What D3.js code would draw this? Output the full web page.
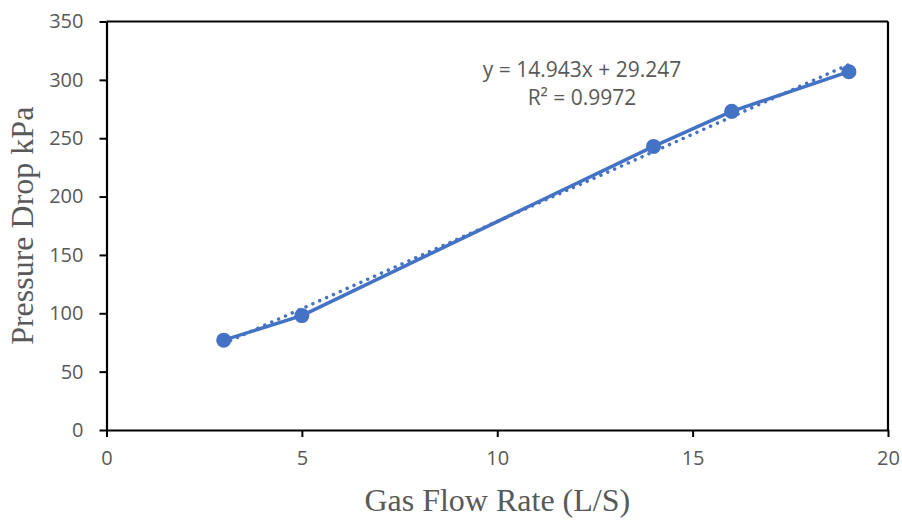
<!DOCTYPE html>
<html>
<head>
<meta charset="utf-8">
<script src="https://cdn.jsdelivr.net/npm/d3@7"></script>
<style>
  html, body { margin: 0; padding: 0; background: #fff; }
  svg { display: block; }
</style>
</head>
<body>
<svg id="chart" width="902" height="520"></svg>
<script>
// ---- data ----
const flowRate = [3, 5, 14, 16, 19];
const pressureDrop = [77, 98, 243, 273, 307];
const xTicks = [0, 5, 10, 15, 20];
const yTicks = [0, 50, 100, 150, 200, 250, 300, 350];
const trendSlope = 14.943;
const trendIntercept = 29.247;
const equationLines = ["y = 14.943x + 29.247", "R² = 0.9972"];
const xTitle = "Gas Flow Rate (L/S)";
const yTitle = "Pressure Drop kPa";

// ---- layout ----
const plot = { left: 106.5, right: 888, top: 21.5, bottom: 430 };
const color = "#4472C4";
const textColor = "#595959";

const svg = d3.select("#chart");

const x = d3.scaleLinear().domain([0, 20]).range([plot.left, plot.right]);
const y = d3.scaleLinear().domain([0, 350]).range([plot.bottom, plot.top]);

// axes
const xAxis = d3.axisBottom(x).tickValues(xTicks).tickSize(7).tickPadding(14).tickSizeOuter(0);
const yAxis = d3.axisLeft(y).tickValues(yTicks).tickSize(7).tickPadding(16).tickSizeOuter(0);

const gx = svg.append("g").attr("transform", `translate(0,${plot.bottom})`).call(xAxis);
const gy = svg.append("g").attr("transform", `translate(${plot.left},0)`).call(yAxis);

[gx, gy].forEach(g => {
  g.select(".domain").attr("stroke", "#000").attr("stroke-width", 2.2);
  g.selectAll(".tick line").attr("stroke", "#000").attr("stroke-width", 2);
  g.selectAll(".tick text")
    .attr("fill", textColor)
    .style("font-family", "'Open Sans', sans-serif")
    .style("font-size", "20px");
});

// plot border (top and right)
svg.append("line").attr("x1", x(0)).attr("x2", x(20)).attr("y1", y(350)).attr("y2", y(350))
  .attr("stroke", "#000").attr("stroke-width", 2.2);
svg.append("line").attr("x1", x(20)).attr("x2", x(20)).attr("y1", y(350)).attr("y2", y(0))
  .attr("stroke", "#000").attr("stroke-width", 2.2);

// series
const pts = flowRate.map((v, i) => [v, pressureDrop[i]]);
svg.append("path")
  .datum(pts)
  .attr("fill", "none")
  .attr("stroke", color)
  .attr("stroke-width", 3.5)
  .attr("stroke-linejoin", "round")
  .attr("d", d3.line().x(d => x(d[0])).y(d => y(d[1])));

svg.selectAll("circle.pt")
  .data(pts)
  .enter().append("circle")
  .attr("class", "pt")
  .attr("cx", d => x(d[0]))
  .attr("cy", d => y(d[1]))
  .attr("r", 7.5)
  .attr("fill", color);

// trendline (dotted)
const xMin = d3.min(flowRate), xMax = d3.max(flowRate);
const trend = [xMin, xMax].map(v => [v, trendSlope * v + trendIntercept]);
svg.append("path")
  .datum(trend)
  .attr("fill", "none")
  .attr("stroke", color)
  .attr("stroke-width", 3.5)
  .attr("stroke-linecap", "round")
  .attr("stroke-dasharray", "0.01 7.5")
  .attr("d", d3.line().x(d => x(d[0])).y(d => y(d[1])));

// equation label
svg.selectAll("text.eq")
  .data(equationLines)
  .enter().append("text")
  .attr("class", "eq")
  .attr("x", 582)
  .attr("y", (d, i) => 77 + i * 28)
  .attr("text-anchor", "middle")
  .attr("fill", textColor)
  .style("font-family", "'Open Sans', sans-serif")
  .style("font-size", "21px")
  .text(d => d);

// axis titles
svg.append("text")
  .attr("x", (plot.left + plot.right) / 2)
  .attr("y", 511)
  .attr("text-anchor", "middle")
  .attr("fill", textColor)
  .style("font-family", "'Liberation Serif', 'Times New Roman', serif")
  .style("font-size", "32px")
  .text(xTitle);

svg.append("text")
  .attr("transform", `translate(33,${(plot.top + plot.bottom) / 2}) rotate(-90)`)
  .attr("text-anchor", "middle")
  .attr("fill", textColor)
  .style("font-family", "'Liberation Serif', 'Times New Roman', serif")
  .style("font-size", "32px")
  .text(yTitle);
</script>
</body>
</html>
